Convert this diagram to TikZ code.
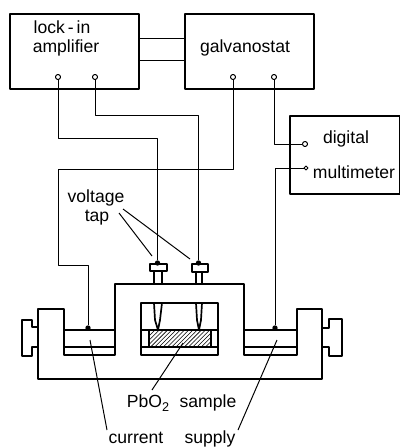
\documentclass[tikz,border=0pt]{standalone}
\usepackage{fontspec}
\setmainfont{Liberation Sans}
\usetikzlibrary{positioning, arrows.meta, calc, patterns}

\begin{document}
\begin{tikzpicture}[
  x=0.025cm, y=-0.025cm,
  line join=round,
  unit/.style={draw, line width=1.2pt, rectangle, inner sep=0pt, anchor=north west},
  terminal/.style={draw, circle, fill=white, line width=0.7pt, minimum size=3.6pt, inner sep=0pt},
  label/.style={inner sep=0pt, font=\fontsize{12.5}{14}\selectfont},
  wire/.style={line width=0.7pt},
  leader/.style={line width=0.7pt},
  frame/.style={line width=1.2pt},
  solder/.style={fill=black, circle, minimum size=3.8pt, inner sep=0pt}
]
\useasboundingbox (0,0) rectangle (400,447);

% instruments
\node[unit, minimum width=3.225cm, minimum height=1.875cm] (lockin) at (9,13) {};
\node[unit, minimum width=3.225cm, minimum height=1.875cm] (galvano) at (184,13) {};
\node[unit, minimum width=2.75cm, minimum height=1.95cm] (meter) at (289,115) {};

\node[label] (locktext) at (62,27) {lock\,-\,in};
\node[label] (amptext) at (66,48) {amplifier};
\node[label] (galvtext) at (245,48) {galvanostat};
\node[label] (digtext) at (346,139) {digital};
\node[label] (multext) at (354,172) {multimeter};

\node[terminal] (la) at (58,77) {};
\node[terminal] (lb) at (95,77) {};
\node[terminal] (ga) at (233,77) {};
\node[terminal] (gb) at (274,77) {};
\node[terminal] (ma) at (305,144) {};
\node[terminal, minimum size=2.8pt] (mb) at (306,168) {};

\draw[wire] ([yshift=0.3125cm]lockin.east) -- ([yshift=0.3125cm]lockin.east -| galvano.west);
\draw[wire] ([yshift=-0.2375cm]lockin.east) -- ([yshift=-0.2375cm]lockin.east -| galvano.west);

% cell
\draw[frame] (38,379) -- (38,309) -- (64,309) -- (64,355) -- (115,355) -- (115,284)
  -- (244,284) -- (244,355) -- (297,355) -- (297,309) -- (322,309) -- (322,379) -- cycle;
\draw[frame] (141,355) rectangle (218,303);
\draw[frame] (141,330) -- (149,330);
\draw[frame] (211,330) -- (218,330);
\draw[frame] (141,347) -- (218,347);
\draw[frame, pattern=north east lines] (149,330) rectangle (211,347);

% current contacts
\draw[frame] (64,330) -- (115,330);
\draw[frame] (64,347) -- (115,347);
\draw[frame] (244,330) -- (297,330);
\draw[frame] (244,347) -- (297,347);

% clamp screws
\draw[frame] (38,327) -- (32,327) -- (32,320) -- (22,320) -- (22,356) -- (32,356) -- (32,347) -- (38,347);
\draw[frame] (322,328) -- (329,328) -- (329,319) -- (342,319) -- (342,356) -- (329,356) -- (329,347) -- (322,347);

% voltage probes
\draw[frame] (154,284) -- (154,271);
\draw[frame] (162,284) -- (162,271);
\draw[frame] (196,284) -- (196,272);
\draw[frame] (202,284) -- (202,272);
\draw[frame] (150,264) rectangle (167,271);
\draw[frame] (192,264) rectangle (208,272);
\draw[frame] (154,303) -- (155,320) -- (158,330) -- (160,320) -- (162,303);
\draw[frame] (196,303) -- (197,320) -- (199,330) -- (201,320) -- (202,303);

\node[solder] (tapa) at (157.5,263) {};
\node[solder] (tapb) at (198.5,263) {};
\node[solder] (cura) at (88,328) {};
\node[solder] (curb) at (275,328) {};

% wiring
\draw[wire] (la) -- (58,138) -| (tapa);
\draw[wire] (lb) -- (95,115) -| (tapb);
\draw[wire] (ga) -- (233,169) -| (58,265) -| (cura);
\draw[wire] (gb) |- (ma);
\draw[wire] (mb) -| (curb);

% labels below and leaders
\node[label] (volt) at (96,198) {voltage};
\node[label] (tap) at (97,218) {tap};
\node[label, anchor=base] (pbo) at (148,407) {PbO\raisebox{-0.45ex}{\fontsize{9}{9}\selectfont 2}};
\node[label, anchor=base] (sample) at (208,407) {sample};
\node[label, anchor=base] (current) at (136,443) {current};
\node[label, anchor=base] (supply) at (210,443) {supply};

\coordinate (tipa) at (152,256);
\coordinate (tipb) at (190,259);
\draw[leader] (119,213) -- (tipa);
\draw[leader] (123,209) -- (tipb);
\draw[leader] (90,340) -- (107,430);
\draw[leader] (277,340) -- (238,430);
\draw[leader] (183,343) -- (152,390);

\end{tikzpicture}
\end{document}
